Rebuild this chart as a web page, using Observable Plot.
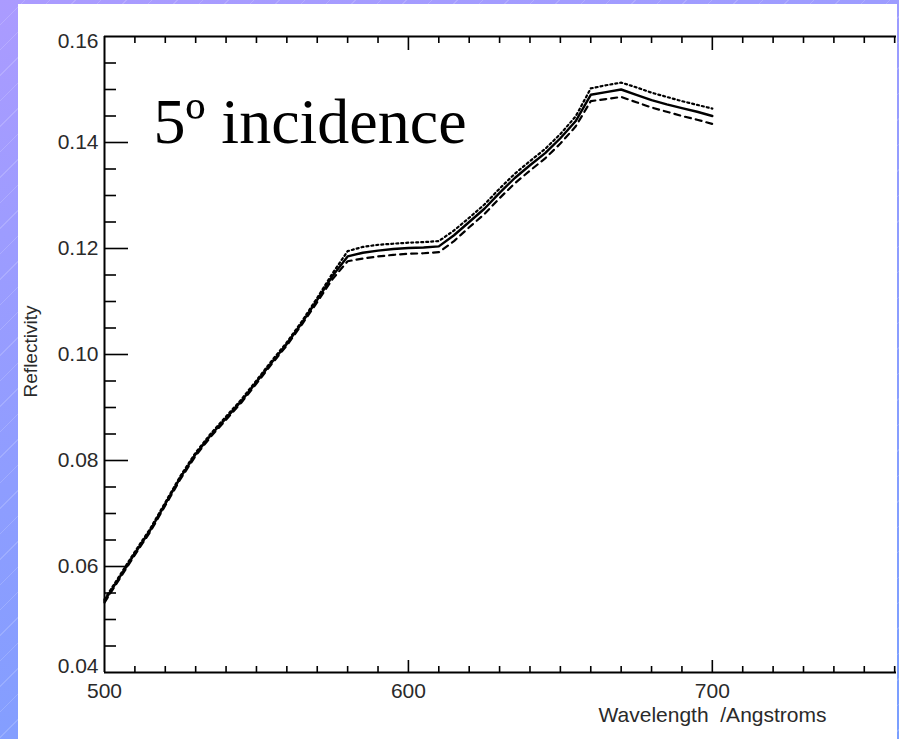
<!DOCTYPE html>
<html>
<head>
<meta charset="utf-8">
<script src="https://cdn.jsdelivr.net/npm/d3@7"></script>
<script src="https://cdn.jsdelivr.net/npm/@observablehq/plot@0.6"></script>
<style>
html, body { margin: 0; padding: 0; }
body {
  width: 899px; height: 739px; overflow: hidden; position: relative;
  background:
    repeating-linear-gradient(135deg, rgba(255,255,255,0) 0px, rgba(255,255,255,0) 17px, rgba(255,255,255,0.16) 17px, rgba(255,255,255,0.16) 18px),
    linear-gradient(165deg, #ab9bff 0%, #8e9dff 50%, #7a9fff 100%);
}
#panel { position: absolute; left: 18px; top: 4px; width: 879px; height: 735px; background: #fff; }
#panel svg { display: block; }
</style>
</head>
<body>
<div id="panel"></div>
<script>
// Wavelength samples (axis labelled Angstroms in the original)
const wavelength = [500,505,510,515,520,525,530,535,540,545,550,555,560,565,570,575,580,585,590,595,600,605,610,615,620,625,630,635,640,645,650,655,660,665,670,675,680,685,690,695,700];
// Solid curve
const solid = [0.0535,0.0580,0.0625,0.0668,0.0718,0.0768,0.0812,0.0848,0.0880,0.0912,0.0948,0.0985,0.1020,0.1060,0.1103,0.1148,0.1185,0.1192,0.1196,0.1199,0.1201,0.1202,0.1204,0.1225,0.1250,0.1275,0.1305,0.1333,0.1357,0.1380,0.1408,0.1440,0.1490,0.1495,0.1500,0.1490,0.1480,0.1472,0.1465,0.1458,0.1450];
// Dotted curve (upper)
const dotted = [0.0538,0.0583,0.0628,0.0671,0.0721,0.0771,0.0815,0.0851,0.0883,0.0915,0.0951,0.0988,0.1023,0.1063,0.1107,0.1153,0.1195,0.1203,0.1207,0.1209,0.1211,0.1212,0.1214,0.1234,0.1258,0.1283,0.1313,0.1341,0.1365,0.1388,0.1416,0.1449,0.1502,0.1508,0.1513,0.1504,0.1494,0.1486,0.1478,0.1471,0.1464];
// Dashed curve (lower)
const dashed = [0.0532,0.0577,0.0622,0.0665,0.0715,0.0765,0.0809,0.0845,0.0877,0.0909,0.0945,0.0982,0.1017,0.1057,0.1099,0.1142,0.1176,0.1181,0.1185,0.1188,0.1190,0.1191,0.1193,0.1214,0.1240,0.1265,0.1295,0.1323,0.1347,0.1370,0.1398,0.1430,0.1478,0.1482,0.1486,0.1476,0.1466,0.1458,0.1450,0.1443,0.1435];

// Tick values and labels
const xTickLabels = [500, 600, 700];
const xMinorTicks = [510,520,530,540,550,560,570,580,590,610,620,630,640,650,660,670,680,690,710,720,730,740,750,760];
const xMajorTicks = [600, 700];
const yTickLabels = [0.04, 0.06, 0.08, 0.10, 0.12, 0.14, 0.16];
const yMinorTicks = [0.045,0.05,0.055,0.065,0.07,0.075,0.085,0.09,0.095,0.105,0.11,0.115,0.125,0.13,0.135,0.145,0.15,0.155];
const yMajorTicks = [0.06, 0.08, 0.10, 0.12, 0.14];

const title = "5º incidence";
const xTitle = "Wavelength\u00a0 /Angstroms";
const yTitle = "Reflectivity";

const rows = wavelength.map((w, i) => ({w, solid: solid[i], dotted: dotted[i], dashed: dashed[i]}));

const W = 879, H = 735, ML = 86, MR = 1, MT = 32, MB = 67;
const FW = W - ML - MR, FH = H - MT - MB;
const sans = "'Liberation Sans', Arial, Helvetica, sans-serif";
const ink = "#000";
const labelInk = "#2a2a2a";
const fmt = d3.format(".2f");

const chart = Plot.plot({
  width: W, height: H,
  marginLeft: ML, marginRight: MR, marginTop: MT, marginBottom: MB,
  style: {background: "transparent", fontFamily: sans, overflow: "visible"},
  x: {domain: [500, 760.6], label: null},
  y: {domain: [0.04, 0.16], label: null},
  marks: [
    // inward ticks, bottom
    Plot.ruleX(xMinorTicks, {stroke: ink, strokeWidth: 1.6, insetTop: FH - 6}),
    Plot.ruleX(xMajorTicks, {stroke: ink, strokeWidth: 1.6, insetTop: FH - 12}),
    // inward ticks, top
    Plot.ruleX(xMinorTicks, {stroke: ink, strokeWidth: 1.6, insetBottom: FH - 7}),
    Plot.ruleX(xMajorTicks, {stroke: ink, strokeWidth: 1.6, insetBottom: FH - 14}),
    // inward ticks, left
    Plot.ruleY(yMinorTicks, {stroke: ink, strokeWidth: 1.6, insetRight: FW - 12}),
    Plot.ruleY(yMajorTicks, {stroke: ink, strokeWidth: 1.6, insetRight: FW - 24}),
    // axis lines
    Plot.ruleX([500], {stroke: ink, strokeWidth: 2}),
    Plot.ruleY([0.04], {stroke: ink, strokeWidth: 2}),
    Plot.ruleY([0.16], {stroke: ink, strokeWidth: 2}),
    // tick labels
    Plot.axisX(xTickLabels, {anchor: "bottom", tickSize: 0, tickPadding: 11, fontSize: 21, fill: labelInk, label: null, tickFormat: d => String(d)}),
    Plot.axisY(yTickLabels.slice(1, -1), {anchor: "left", tickSize: 0, tickPadding: 6, fontSize: 21, fill: labelInk, label: null, tickFormat: fmt}),
    Plot.axisY(yTickLabels.slice(0, 1), {anchor: "left", tickSize: 0, tickPadding: 6, dy: -6, fontSize: 21, fill: labelInk, label: null, tickFormat: fmt}),
    Plot.axisY(yTickLabels.slice(-1), {anchor: "left", tickSize: 0, tickPadding: 6, dy: 5, fontSize: 21, fill: labelInk, label: null, tickFormat: fmt}),
    // curves
    Plot.line(rows, {x: "w", y: "dotted", stroke: ink, strokeWidth: 2.2, strokeDasharray: "2,3"}),
    Plot.line(rows, {x: "w", y: "dashed", stroke: ink, strokeWidth: 2.2, strokeDasharray: "6,5"}),
    Plot.line(rows, {x: "w", y: "solid", stroke: ink, strokeWidth: 2.4}),
    // titles
    Plot.text([title], {frameAnchor: "top-left", textAnchor: "start", lineAnchor: "bottom", dx: 49, dy: 106, fontSize: 64, fontFamily: "'Liberation Serif', 'Times New Roman', serif", fill: ink}),
    Plot.text([xTitle], {frameAnchor: "bottom", textAnchor: "middle", lineAnchor: "middle", dx: 212, dy: 43, fontSize: 21, fill: labelInk}),
    Plot.text([yTitle], {frameAnchor: "left", textAnchor: "middle", lineAnchor: "middle", rotate: -90, dx: -74, dy: -3, fontSize: 19, fill: labelInk})
  ]
});
document.getElementById("panel").appendChild(chart);
</script>
</body>
</html>
